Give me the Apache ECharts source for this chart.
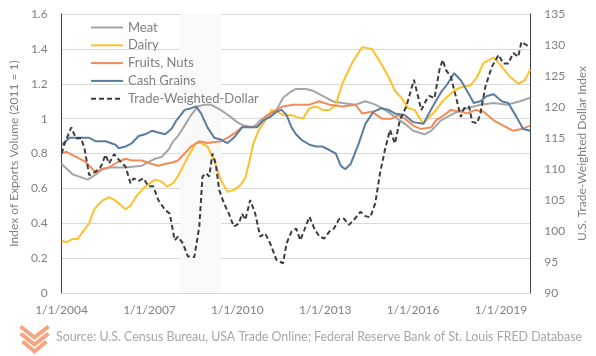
<!DOCTYPE html>
<html>
<head>
<meta charset="utf-8">
<script src="https://cdn.jsdelivr.net/npm/echarts@6/dist/echarts.min.js"></script>
<style>
html,body{margin:0;padding:0;background:#fff;}
#chart{width:596px;height:356px;}
</style>
</head>
<body>
<div id="chart"></div>
<script>
// ---- data (x = decimal year) ----
const xTickYears = [2004, 2007, 2010, 2013, 2016, 2019];
const recession = [2008.05, 2009.45];

const meat = [[2004.0,0.74],[2004.38,0.68],[2004.72,0.66],[2004.89,0.65],[2005.17,0.68],[2005.39,0.71],[2005.62,0.72],[2006.18,0.72],[2006.74,0.73],[2006.85,0.74],[2007.19,0.77],[2007.41,0.78],[2007.64,0.82],[2007.81,0.87],[2007.97,0.90],[2008.2,0.96],[2008.42,1.02],[2008.65,1.07],[2008.87,1.08],[2009.1,1.08],[2009.43,1.05],[2009.77,1.01],[2009.99,0.98],[2010.22,0.96],[2010.55,0.95],[2010.78,0.99],[2011.12,1.03],[2011.34,1.05],[2011.56,1.12],[2011.79,1.15],[2012.0,1.17],[2012.35,1.17],[2012.57,1.16],[2012.91,1.13],[2013.25,1.10],[2013.58,1.09],[2014.03,1.08],[2014.37,1.10],[2014.71,1.08],[2015.04,1.05],[2015.38,1.01],[2015.72,0.97],[2016.0,0.93],[2016.39,0.91],[2016.62,0.93],[2016.95,0.99],[2017.4,1.03],[2017.85,1.06],[2018.3,1.08],[2018.75,1.09],[2019.2,1.08],[2019.65,1.10],[2020.0,1.12]];

const dairy = [[2004.0,0.30],[2004.16,0.29],[2004.38,0.31],[2004.55,0.31],[2004.72,0.35],[2004.94,0.40],[2005.11,0.48],[2005.39,0.53],[2005.62,0.55],[2005.84,0.53],[2006.18,0.48],[2006.35,0.50],[2006.57,0.56],[2006.85,0.61],[2007.19,0.65],[2007.41,0.64],[2007.6,0.61],[2007.81,0.63],[2007.97,0.67],[2008.31,0.78],[2008.59,0.86],[2008.76,0.86],[2008.98,0.84],[2009.21,0.76],[2009.43,0.65],[2009.66,0.58],[2009.88,0.59],[2010.11,0.62],[2010.27,0.66],[2010.39,0.74],[2010.55,0.86],[2010.72,0.93],[2010.95,0.99],[2011.17,1.05],[2011.34,1.04],[2011.56,1.02],[2011.85,1.02],[2012.01,1.01],[2012.24,1.00],[2012.46,1.06],[2012.69,1.07],[2012.91,1.05],[2013.14,1.05],[2013.36,1.08],[2013.58,1.20],[2013.92,1.32],[2014.26,1.41],[2014.59,1.40],[2014.82,1.34],[2015.16,1.24],[2015.38,1.16],[2015.6,1.12],[2015.83,1.06],[2016.05,1.05],[2016.35,0.97],[2016.73,1.04],[2017.06,1.11],[2017.4,1.16],[2017.63,1.18],[2017.96,1.19],[2018.19,1.24],[2018.41,1.32],[2018.75,1.35],[2018.97,1.31],[2019.31,1.24],[2019.59,1.20],[2019.81,1.22],[2020.0,1.28]];

const fruits = [[2004.0,0.80],[2004.16,0.81],[2004.38,0.79],[2004.61,0.77],[2004.83,0.75],[2005.06,0.71],[2005.17,0.69],[2005.34,0.71],[2005.62,0.72],[2005.9,0.75],[2006.18,0.77],[2006.4,0.76],[2006.74,0.76],[2007.08,0.74],[2007.3,0.73],[2007.53,0.74],[2007.81,0.75],[2007.97,0.76],[2008.2,0.80],[2008.42,0.84],[2008.7,0.87],[2008.98,0.86],[2009.43,0.87],[2009.66,0.89],[2009.94,0.92],[2010.22,0.96],[2010.44,0.95],[2010.72,0.96],[2010.95,1.01],[2011.34,1.05],[2011.56,1.07],[2011.9,1.08],[2012.46,1.08],[2012.8,1.10],[2013.14,1.08],[2013.58,1.07],[2014.03,1.08],[2014.26,1.03],[2014.59,1.04],[2014.93,1.00],[2015.27,1.00],[2015.49,1.02],[2015.72,1.00],[2016.0,0.96],[2016.28,0.94],[2016.62,0.95],[2016.78,0.99],[2017.06,1.02],[2017.29,1.05],[2017.63,1.04],[2017.85,1.03],[2018.13,1.05],[2018.41,1.04],[2018.75,0.99],[2019.08,0.96],[2019.42,0.93],[2019.7,0.94],[2020.0,0.96]];

const grains = [[2004.0,0.85],[2004.27,0.89],[2004.61,0.89],[2004.94,0.89],[2005.17,0.87],[2005.5,0.87],[2005.84,0.85],[2005.95,0.83],[2006.18,0.84],[2006.4,0.86],[2006.63,0.90],[2006.85,0.91],[2007.08,0.93],[2007.3,0.92],[2007.53,0.91],[2007.75,0.94],[2007.92,0.99],[2008.2,1.05],[2008.42,1.06],[2008.59,1.07],[2008.76,1.03],[2008.98,0.95],[2009.21,0.89],[2009.43,0.88],[2009.66,0.86],[2009.88,0.89],[2010.16,0.95],[2010.44,0.95],[2010.67,0.95],[2010.89,0.99],[2011.12,1.01],[2011.34,1.04],[2011.51,1.05],[2011.68,1.02],[2011.85,0.95],[2012.0,0.91],[2012.18,0.88],[2012.46,0.85],[2012.69,0.84],[2012.91,0.84],[2013.14,0.82],[2013.36,0.80],[2013.53,0.73],[2013.68,0.71],[2013.87,0.74],[2014.15,0.86],[2014.37,0.97],[2014.65,1.04],[2014.93,1.06],[2015.16,1.05],[2015.38,1.03],[2015.72,1.02],[2016.0,0.98],[2016.35,0.97],[2016.67,1.07],[2016.95,1.15],[2017.18,1.20],[2017.4,1.26],[2017.63,1.22],[2017.91,1.14],[2018.07,1.09],[2018.3,1.10],[2018.52,1.13],[2018.75,1.14],[2019.03,1.10],[2019.25,1.09],[2019.53,1.01],[2019.76,0.94],[2020.0,0.93]];

const dollar = [[2004.0,112.5],[2004.1,114.1],[2004.33,116.7],[2004.49,114.9],[2004.66,115.0],[2004.78,113.3],[2004.94,109.0],[2005.17,109.6],[2005.34,110.4],[2005.5,112.3],[2005.62,110.9],[2005.79,112.4],[2005.95,111.5],[2006.18,110.4],[2006.35,107.7],[2006.46,108.5],[2006.63,108.1],[2006.8,108.5],[2006.96,107.2],[2007.13,107.2],[2007.3,105.0],[2007.53,103.4],[2007.69,102.8],[2007.86,98.5],[2007.97,99.1],[2008.14,98.0],[2008.31,95.9],[2008.53,95.8],[2008.7,100.7],[2008.81,108.8],[2008.93,109.3],[2009.04,108.8],[2009.15,112.5],[2009.26,110.9],[2009.38,106.6],[2009.54,104.5],[2009.71,102.8],[2009.88,100.7],[2010.05,101.2],[2010.16,102.8],[2010.27,101.8],[2010.44,105.0],[2010.61,102.8],[2010.78,99.1],[2010.95,99.6],[2011.12,98.0],[2011.34,95.3],[2011.56,94.8],[2011.68,98.0],[2011.85,99.9],[2012.01,100.4],[2012.15,98.5],[2012.29,100.2],[2012.46,102.3],[2012.63,100.4],[2012.8,99.1],[2012.97,98.8],[2013.14,99.9],[2013.3,100.4],[2013.47,101.9],[2013.64,102.0],[2013.81,101.0],[2013.98,101.8],[2014.2,103.1],[2014.37,102.4],[2014.54,102.2],[2014.71,104.5],[2014.87,109.3],[2015.04,113.1],[2015.21,116.3],[2015.38,114.1],[2015.55,117.9],[2015.77,120.1],[2016.03,124.4],[2016.17,121.7],[2016.28,119.5],[2016.45,121.1],[2016.56,121.8],[2016.73,121.4],[2016.9,126.0],[2017.01,127.6],[2017.12,126.0],[2017.29,124.9],[2017.46,121.7],[2017.63,118.4],[2017.74,119.8],[2017.91,120.1],[2018.02,117.6],[2018.19,117.4],[2018.3,119.0],[2018.47,123.3],[2018.69,126.5],[2018.92,128.4],[2019.08,127.0],[2019.25,127.0],[2019.42,128.7],[2019.59,128.1],[2019.7,130.5],[2019.87,130.0],[2020.0,129.6]];

const seriesNames = ['Meat', 'Dairy', 'Fruits, Nuts', 'Cash Grains', 'Trade-Weighted-Dollar'];
const seriesColors = ['#a5a5a5', '#ffc12b', '#f08c5a', '#5a7ca0', '#3c3c3c'];
const sourceText = 'Source: U.S. Census Bureau, USA Trade Online; Federal Reserve Bank of St. Louis FRED Database';

const FONT = 'Lato';
const labelColor = '#808080';

const chart = echarts.init(document.getElementById('chart'), null, {renderer: 'canvas'});

function lineSeries(i, data, yIdx, dashed) {
  return {
    name: seriesNames[i],
    type: 'line',
    data: data,
    yAxisIndex: yIdx,
    symbol: 'none',
    showSymbol: false,
    smooth: false,
    animation: false,
    color: seriesColors[i],
    lineStyle: {width: 2, color: seriesColors[i], type: dashed ? [5, 3] : 'solid'},
    z: 3 + i
  };
}

const s0 = lineSeries(0, meat, 0, false);
s0.markArea = {
  silent: true,
  z: 1,
  itemStyle: {color: '#f9f9f9', opacity: 1, borderWidth: 0},
  emphasis: {disabled: true},
  data: [[{xAxis: recession[0]}, {xAxis: recession[1]}]]
};

const option = {
  backgroundColor: '#ffffff',
  animation: false,
  grid: {left: 57, right: 64, top: 14, bottom: 63, containLabel: false},
  legend: {
    orient: 'vertical',
    left: 85,
    top: 16,
    itemWidth: 32,
    itemHeight: 12,
    itemGap: 4.8,
    data: seriesNames,
    itemStyle: {opacity: 0},
    textStyle: {fontFamily: FONT, fontSize: 13, color: labelColor}
  },
  xAxis: {
    type: 'value',
    min: 2004,
    max: 2020,
    interval: 3,
    axisLine: {show: true, lineStyle: {color: '#d9d9d9', width: 1}},
    axisTick: {show: false},
    splitLine: {show: false},
    axisLabel: {
      fontFamily: FONT, fontSize: 12, color: labelColor, margin: 11,
      showMaxLabel: false,
      formatter: v => (xTickYears.indexOf(v) >= 0 ? '1/1/' + v : '')
    }
  },
  yAxis: [
    {
      type: 'value',
      min: 0, max: 1.6, interval: 0.2,
      name: 'Index of Exports Volume (2011 = 1)',
      nameLocation: 'middle',
      nameRotate: 90,
      nameGap: 38,
      nameTextStyle: {fontFamily: FONT, fontSize: 12, color: labelColor},
      axisLine: {show: true, lineStyle: {color: '#404040', width: 1}},
      axisTick: {show: false},
      splitLine: {show: true, lineStyle: {color: '#d9d9d9', width: 1}},
      axisLabel: {fontFamily: FONT, fontSize: 12, color: labelColor, margin: 14,
        formatter: v => String(Math.round(v * 10) / 10)}
    },
    {
      type: 'value',
      position: 'right',
      min: 90, max: 135, interval: 5,
      name: 'U.S. Trade-Weighted Dollar Index',
      nameLocation: 'middle',
      nameRotate: 90,
      nameGap: 44,
      nameTextStyle: {fontFamily: FONT, fontSize: 12, color: labelColor},
      axisLine: {show: true, lineStyle: {color: '#404040', width: 1}},
      axisTick: {show: false},
      splitLine: {show: false},
      axisLabel: {fontFamily: FONT, fontSize: 12, color: labelColor, margin: 14}
    }
  ],
  series: [
    s0,
    lineSeries(1, dairy, 0, false),
    lineSeries(2, fruits, 0, false),
    lineSeries(3, grains, 0, false),
    lineSeries(4, dollar, 1, true)
  ],
  graphic: [
    {
      type: 'text', left: 56, top: 331,
      style: {text: sourceText, fontFamily: FONT, fontSize: 12.4, fill: '#a6a6a6'}
    },
    {
      type: 'group', left: 18, top: 324,
      children: [
        {type: 'polyline', shape: {points: [[1, 1], [15, 12], [29, 1]]}, style: {stroke: '#f7a47f', lineWidth: 4, fill: null}},
        {type: 'polyline', shape: {points: [[1, 8], [15, 19], [29, 8]]}, style: {stroke: '#f7a47f', lineWidth: 4, fill: null}},
        {type: 'polyline', shape: {points: [[3, 16], [15, 26], [27, 16]]}, style: {stroke: '#f7a47f', lineWidth: 4, fill: null}}
      ]
    }
  ]
};
chart.setOption(option);
</script>
</body>
</html>
